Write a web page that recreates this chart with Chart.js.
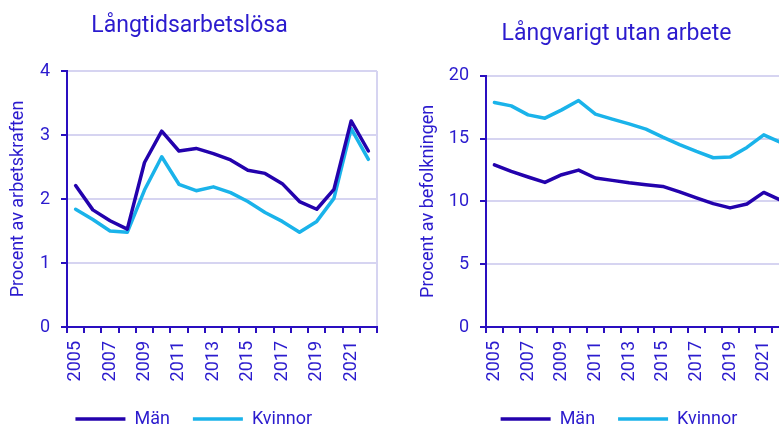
<!DOCTYPE html>
<html>
<head>
<meta charset="utf-8">
<script src="https://cdn.jsdelivr.net/npm/chart.js@4/dist/chart.umd.min.js"></script>
<style>
  html, body { margin: 0; padding: 0; background: #ffffff; }
  body { width: 779px; height: 427px; overflow: hidden; position: relative; }
  canvas { position: absolute; top: 0; }
  #c1 { left: 0; }
  #c2 { left: 390px; }
</style>
</head>
<body>
<canvas id="c1" width="390" height="427"></canvas>
<canvas id="c2" width="399" height="427"></canvas>
<script>
// ---- data ----
const years = ['2005','2006','2007','2008','2009','2010','2011','2012','2013','2014','2015','2016','2017','2018','2019','2020','2021','2022'];
const seriesNames = ['Män', 'Kvinnor'];
const titleLeft = 'Långtidsarbetslösa';
const titleRight = 'Långvarigt utan arbete';
const yTitleLeft = 'Procent av arbetskraften';
const yTitleRight = 'Procent av befolkningen';
const menLTU   = [2.21,1.83,1.66,1.53,2.57,3.06,2.75,2.79,2.71,2.61,2.45,2.40,2.24,1.96,1.84,2.15,3.22,2.75];
const womenLTU = [1.84,1.68,1.50,1.48,2.14,2.66,2.23,2.13,2.19,2.10,1.96,1.79,1.65,1.48,1.65,2.01,3.10,2.62];
const menLong   = [12.91,12.38,11.94,11.51,12.12,12.49,11.86,11.67,11.48,11.33,11.19,10.75,10.27,9.82,9.48,9.79,10.71,10.10];
const womenLong = [17.86,17.60,16.88,16.62,17.28,18.02,16.94,16.54,16.17,15.75,15.11,14.52,13.97,13.47,13.52,14.29,15.29,14.70];
const yMaxLeft = 4, yStepLeft = 1;
const yMaxRight = 20, yStepRight = 5;

// ---- style ----
const FONT = 'Roboto';
const TEXT = '#2b1bce';
const AXIS = '#2a0fc0';
const MEN = '#2302ad';
const WOMEN = '#1ab3ea';
const GRID = '#d6d4f1';

const shiftPlugin = {
  id: 'shift',
  afterLayout(chart, args, opts) {
    if (chart.titleBlock) { chart.titleBlock.left += opts.title; chart.titleBlock.right += opts.title; }
    if (chart.legend) { chart.legend.left += opts.legend; chart.legend.right += opts.legend; }
  }
};

function makeChart(id, cfg) {
  const ds = (label, data, color) => ({
    label, data, borderColor: color, backgroundColor: color,
    borderWidth: 3.5, pointRadius: 0, tension: 0,
    borderJoinStyle: 'round', borderCapStyle: 'round'
  });
  return new Chart(document.getElementById(id), {
    type: 'line',
    data: {
      labels: years,
      datasets: [ds(seriesNames[0], cfg.men, MEN), ds(seriesNames[1], cfg.women, WOMEN)]
    },
    plugins: [shiftPlugin],
    options: {
      responsive: false,
      animation: false,
      devicePixelRatio: 1,
      layout: { padding: { left: 0, right: cfg.padRight, top: 0, bottom: -11 } },
      plugins: {
        shift: { title: cfg.titleShift, legend: cfg.legendShift },
        tooltip: { enabled: false },
        title: {
          display: true, text: cfg.title, color: TEXT,
          font: { family: FONT, size: 23, weight: 'normal', lineHeight: 1.2 },
          padding: { top: cfg.titleTop, bottom: cfg.titleBottom }
        },
        legend: {
          display: true, position: 'bottom',
          labels: {
            color: TEXT, usePointStyle: true, pointStyle: 'line', pointStyleWidth: 50,
            boxHeight: 18, padding: 23,
            font: { family: FONT, size: 18 }
          }
        }
      },
      scales: {
        x: {
          type: 'category', offset: true,
          afterFit: (s) => { s.height = 60; s.paddingLeft = 0; s.paddingRight = 0; },
          border: { display: true, color: AXIS, width: 2 },
          grid: {
            offset: true, drawOnChartArea: true, drawTicks: true,
            color: (c) => (c.type === 'tick' ? 'rgba(0,0,0,0)' : GRID),
            lineWidth: 2, tickColor: AXIS, tickWidth: 2, tickLength: 6
          },
          ticks: {
            autoSkip: false, maxRotation: 90, minRotation: 90, padding: 8,
            color: TEXT, font: { family: FONT, size: 18 },
            callback: (v, i) => (i % 2 === 0 ? years[i] : '')
          }
        },
        y: {
          min: 0, max: cfg.yMax,
          afterFit: (s) => { s.width = cfg.yWidth; },
          border: { display: true, color: AXIS, width: 2 },
          grid: {
            color: (c) => (c.tick && c.tick.value === 0 ? 'rgba(0,0,0,0)' : GRID),
            lineWidth: 2, tickColor: AXIS, tickWidth: 2, tickLength: 6
          },
          ticks: { stepSize: cfg.yStep, padding: 11, color: TEXT, font: { family: FONT, size: 18 } },
          title: {
            display: true, text: cfg.yTitle, color: TEXT,
            font: { family: FONT, size: 18, lineHeight: 1.2 },
            padding: { top: cfg.yTitlePad, bottom: 0 }
          }
        }
      }
    }
  });
}

makeChart('c1', {
  men: menLTU, women: womenLTU, title: titleLeft, yTitle: yTitleLeft,
  yMax: yMaxLeft, yStep: yStepLeft, yWidth: 67, yTitlePad: 7.2,
  padRight: 13, titleTop: 12.7, titleBottom: 30.7, titleShift: 1, legendShift: 5.3
});
makeChart('c2', {
  men: menLong, women: womenLong, title: titleRight, yTitle: yTitleRight,
  yMax: yMaxRight, yStep: yStepRight, yWidth: 96, yTitlePad: 27.2,
  padRight: 0, titleTop: 20.2, titleBottom: 27.9, titleShift: 27, legendShift: 29.5
});
</script>
</body>
</html>
